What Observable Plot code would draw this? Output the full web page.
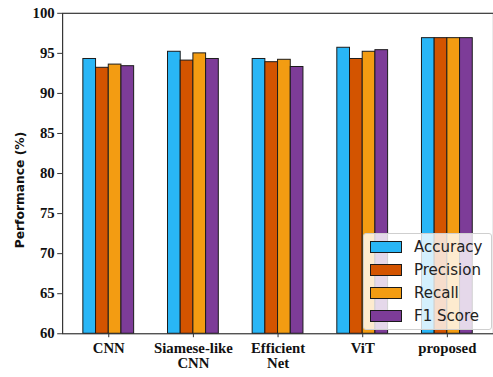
<!DOCTYPE html>
<html>
<head>
<meta charset="utf-8">
<script src="https://cdn.jsdelivr.net/npm/d3@7"></script>
<script src="https://cdn.jsdelivr.net/npm/@observablehq/plot@0.6"></script>
<style>
  html, body { margin: 0; padding: 0; background: #fff; overflow: hidden; }
  #wrap { position: relative; width: 493px; height: 377px; overflow: hidden; }
  #ylabel {
    position: absolute; left: 20px; top: 190px; transform: translate(-50%, -50%) rotate(-90deg);
    white-space: nowrap; font-family: "DejaVu Sans", sans-serif; font-weight: bold; font-size: 12.3px; color: #111;
  }
  #legend {
    position: absolute; left: 363px; top: 233px; width: 127px; height: 95px;
    background: rgba(255,255,255,0.8); border: 1px solid #cfcfcf; border-radius: 3px;
    font-family: "DejaVu Sans", sans-serif; font-size: 15px; color: #222;
  }
  .row { position: absolute; left: 6px; height: 23px; display: flex; align-items: center; }
  .sw { width: 30px; height: 10px; border: 1px solid #1a1a1a; margin-right: 12px; }
</style>
</head>
<body>
<div id="wrap"><div id="ylabel">Performance (%)</div><div id="legend"></div></div>
<script>
// Model names (newline splits the tick label onto two lines)
const models = ["CNN", "Siamese-like\nCNN", "Efficient\nNet", "ViT", "proposed"];
const metrics = ["Accuracy", "Precision", "Recall", "F1 Score"];
const colors = ["#29b6f6", "#d35400", "#f39c12", "#7d3c98"];

// Scores (%) per model, one array per metric
const accuracy  = [94.3, 95.2, 94.3, 95.7, 96.9];
const precision = [93.2, 94.1, 93.9, 94.3, 96.9];
const recall    = [93.6, 95.0, 94.2, 95.2, 96.9];
const f1score   = [93.4, 94.3, 93.3, 95.4, 96.9];

const yTicks = [60, 65, 70, 75, 80, 85, 90, 95, 100];
const yMin = 60, yMax = 100;
const barWidth = 0.15;

const series = [accuracy, precision, recall, f1score];
const rows = [];
models.forEach((m, i) => {
  metrics.forEach((k, j) => {
    const x1 = i - (metrics.length * barWidth) / 2 + j * barWidth;
    rows.push({model: m, metric: k, x1, x2: x1 + barWidth, value: series[j][i]});
  });
});

const chart = Plot.plot({
  width: 500,
  height: 377,
  marginLeft: 63,
  marginRight: 0,
  marginTop: 13,
  marginBottom: 39,
  style: {fontFamily: "Liberation Serif, serif", fontSize: "15px", fontWeight: "bold", color: "#111", background: "transparent"},
  x: {domain: [-0.545, 4.545], axis: null},
  y: {domain: [yMin, yMax], axis: null},
  color: {domain: metrics, range: colors},
  marks: [
    Plot.rect(rows, {x1: "x1", x2: "x2", y1: () => yMin, y2: "value", fill: "metric", stroke: "#1a1a1a", strokeWidth: 1}),
    Plot.frame({stroke: "#333", strokeWidth: 1.2}),
    Plot.axisY({ticks: yTicks, tickSize: 5, tickPadding: 3, stroke: "#333", label: null}),
    Plot.axisX({ticks: d3.range(models.length), tickFormat: i => models[i], tickSize: 4, tickPadding: 4, stroke: "#333", label: null, lineHeight: 1.05})
  ]
});
document.getElementById("wrap").prepend(chart);

// Legend entries
const legend = document.getElementById("legend");
metrics.forEach((k, j) => {
  const row = document.createElement("div");
  row.className = "row";
  row.style.top = (1 + j * 23.2) + "px";
  const sw = document.createElement("div");
  sw.className = "sw";
  sw.style.background = colors[j];
  const label = document.createElement("span");
  label.textContent = k;
  row.append(sw, label);
  legend.append(row);
});
</script>
</body>
</html>
